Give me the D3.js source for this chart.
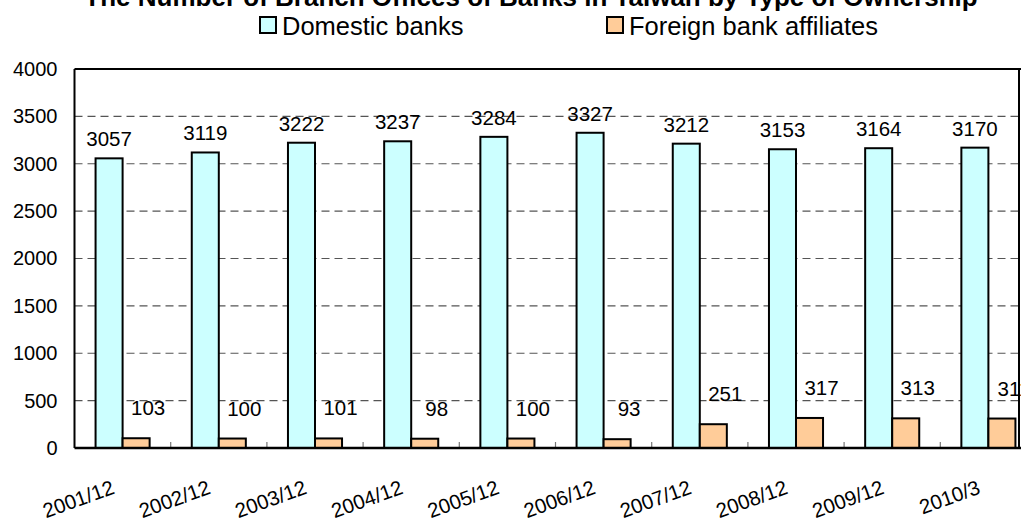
<!DOCTYPE html>
<html>
<head>
<meta charset="utf-8">
<script src="https://cdn.jsdelivr.net/npm/d3@7"></script>
<style>
  html, body { margin: 0; padding: 0; background: #fff; overflow: hidden; }
  svg { display: block; font-family: "Liberation Sans", Arial, sans-serif; }
</style>
</head>
<body>
<svg id="chart" width="1021" height="522"></svg>
<script>
// Branch offices of banks in Taiwan, by ownership type
const categories = ["2001/12", "2002/12", "2003/12", "2004/12", "2005/12",
                    "2006/12", "2007/12", "2008/12", "2009/12", "2010/3"];
const domesticBanks = [3057, 3119, 3222, 3237, 3284, 3327, 3212, 3153, 3164, 3170];
const foreignAffiliates = [103, 100, 101, 98, 100, 93, 251, 317, 313, 311];
const yTickValues = [0, 500, 1000, 1500, 2000, 2500, 3000, 3500, 4000];
const seriesNames = ["Domestic banks", "Foreign bank affiliates"];
const seriesColors = ["#CCFFFF", "#FFCC99"];
const titleText = "The Number of Branch Offices of Banks in Taiwan by Type of Ownership";

const svg = d3.select("#chart");
const plot = { left: 74.5, right: 1036.5, top: 69, bottom: 448 };

const x0 = d3.scaleBand().domain(categories).range([plot.left, plot.right]).padding(0);
const groupW = x0.bandwidth() * 0.562;
const x1 = d3.scaleBand().domain(seriesNames).range([0, groupW]).padding(0);
const y = d3.scaleLinear().domain([0, 4000]).range([plot.bottom, plot.top]);

// Dashed horizontal gridlines
svg.append("g")
  .selectAll("line")
  .data(yTickValues.filter(v => v > 0 && v < 4000))
  .join("line")
  .attr("x1", plot.left).attr("x2", plot.right)
  .attr("y1", d => y(d)).attr("y2", d => y(d))
  .attr("stroke", "#555").attr("stroke-width", 1.2)
  .attr("stroke-dasharray", "8,5");

// Category boundary ticks pointing up from the base line
svg.append("g")
  .selectAll("line")
  .data(categories.slice(1))
  .join("line")
  .attr("x1", d => x0(d)).attr("x2", d => x0(d))
  .attr("y1", plot.bottom).attr("y2", plot.bottom - 6)
  .attr("stroke", "#777").attr("stroke-width", 1.2);

// Bars
const rows = categories.map((c, i) => ({
  cat: c,
  vals: [
    { name: seriesNames[0], value: domesticBanks[i], color: seriesColors[0] },
    { name: seriesNames[1], value: foreignAffiliates[i], color: seriesColors[1] }
  ]
}));

const groups = svg.append("g")
  .selectAll("g")
  .data(rows)
  .join("g")
  .attr("transform", d => `translate(${x0(d.cat) + (x0.bandwidth() - groupW) / 2},0)`);

groups.selectAll("rect")
  .data(d => d.vals)
  .join("rect")
  .attr("x", d => x1(d.name))
  .attr("width", x1.bandwidth())
  .attr("y", d => y(d.value))
  .attr("height", d => y(0) - y(d.value))
  .attr("fill", d => d.color)
  .attr("stroke", "#000")
  .attr("stroke-width", 2);

// Value labels
groups.selectAll("text")
  .data(d => d.vals)
  .join("text")
  .attr("x", d => x1(d.name) + x1.bandwidth() / 2 + (d.name === seriesNames[1] ? 12 : 0))
  .attr("y", d => y(d.value) - (d.name === seriesNames[1] ? 23 : 12))
  .attr("text-anchor", "middle")
  .attr("font-size", "20.5px")
  .attr("fill", "#000")
  .text(d => d.value);

// Plot frame
svg.append("line")
  .attr("x1", plot.left).attr("x2", plot.right)
  .attr("y1", plot.top).attr("y2", plot.top)
  .attr("stroke", "#000").attr("stroke-width", 2);
svg.append("line")
  .attr("x1", plot.left).attr("x2", plot.right)
  .attr("y1", plot.bottom).attr("y2", plot.bottom)
  .attr("stroke", "#000").attr("stroke-width", 2.5);
svg.append("line")
  .attr("x1", plot.left).attr("x2", plot.left)
  .attr("y1", plot.top).attr("y2", plot.bottom)
  .attr("stroke", "#000").attr("stroke-width", 2);
svg.append("line")
  .attr("x1", 1019).attr("x2", 1019)
  .attr("y1", plot.top).attr("y2", plot.bottom)
  .attr("stroke", "#000").attr("stroke-width", 2);

// Y axis labels
const yAxis = d3.axisLeft(y).tickValues(yTickValues).tickFormat(d3.format("d"))
  .tickSize(0).tickPadding(17);
svg.append("g")
  .attr("transform", `translate(${plot.left},0)`)
  .call(yAxis)
  .call(g => g.select(".domain").remove())
  .call(g => g.selectAll("text")
    .attr("font-size", "20px")
    .attr("font-family", "'Liberation Sans', Arial, sans-serif")
    .attr("fill", "#000"));

// X axis labels, slanted
svg.append("g")
  .selectAll("text")
  .data(categories)
  .join("text")
  .attr("transform", d => `translate(${x0(d) + x0.bandwidth() / 2 - 7},493) rotate(-20)`)
  .attr("text-anchor", "end")
  .attr("font-size", "20.5px")
  .attr("fill", "#000")
  .text(d => d);

// Title
svg.append("text")
  .attr("x", 531).attr("y", 6)
  .attr("text-anchor", "middle")
  .attr("font-size", "26px")
  .attr("font-weight", "bold")
  .attr("fill", "#000")
  .text(titleText);

// Legend
const legendPos = [260, 607];
const legend = svg.append("g")
  .selectAll("g")
  .data(seriesNames)
  .join("g")
  .attr("transform", (d, i) => `translate(${legendPos[i]},17)`);
legend.append("rect")
  .attr("width", 16).attr("height", 16)
  .attr("fill", (d, i) => seriesColors[i])
  .attr("stroke", "#000").attr("stroke-width", 2);
legend.append("text")
  .attr("x", 22).attr("y", 18)
  .attr("font-size", "25.5px")
  .attr("fill", "#000")
  .text(d => d);
</script>
</body>
</html>
